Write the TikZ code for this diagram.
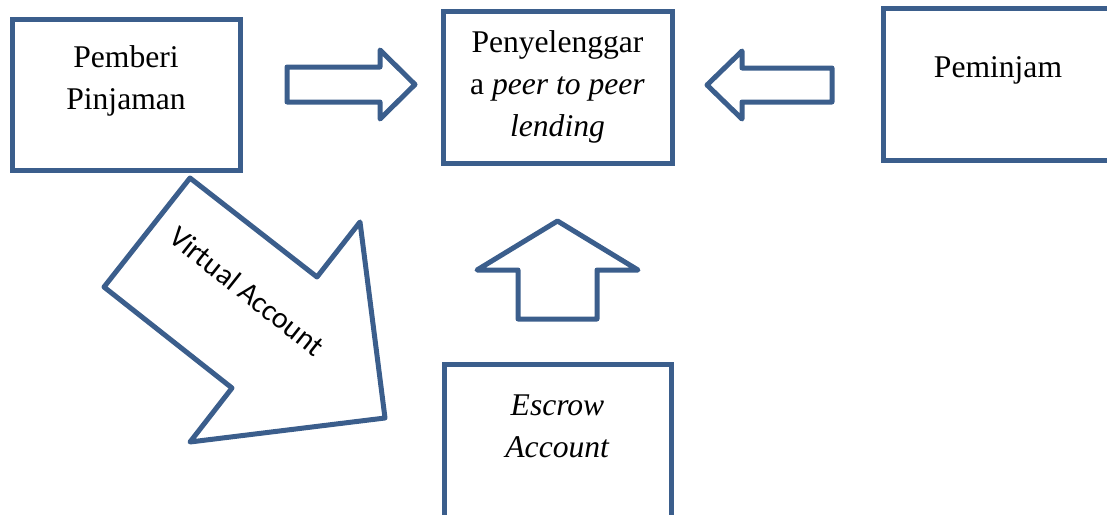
\documentclass[tikz,border=0pt]{standalone}
\usepackage{fontspec}
\setmainfont{Liberation Serif}
\newfontfamily\calibri{Carlito}
\definecolor{boxblue}{HTML}{3B5E8C}
\begin{document}
\begin{tikzpicture}[x=0.5pt,y=-0.5pt,
  box/.style={draw=boxblue,line width=2.5pt},
  blockarrow/.style={draw=boxblue,line width=2.5pt,line join=round},
  lbl/.style={align=center,font=\fontsize{15.8}{21}\selectfont,inner sep=0pt}]
\useasboundingbox (0,0) rectangle (1107,514);
\clip (0,0) rectangle (1107,514);
% boxes
\draw[box] (12,19) rectangle (240,170);
\draw[box] (443,11) rectangle (672,163);
\draw[box] (883,8) rectangle (1120,160);
\draw[box] (444,364) rectangle (671,530);
\node[lbl] (lender) at (126,81) {Pemberi\\Pinjaman};
\node[lbl] (platform) at (557.5,87) {Penyelenggar\\a \textit{peer to peer}\\\textit{lending}};
\node[lbl] (borrower) at (998,70) {Peminjam};
\node[lbl] (escrow) at (557.5,426.5) {\textit{Escrow}\\\textit{Account}};
% block arrows
\draw[blockarrow] (287,67)--(380,67)--(380,50)--(415,84.5)--(380,119)--(380,102)--(287,102)--cycle;
\draw[blockarrow] (832,68)--(742,68)--(742,51)--(707,85)--(742,119)--(742,102)--(832,102)--cycle;
\draw[blockarrow] (518,319)--(518,270)--(477,270)--(557.5,221)--(638,270)--(597,270)--(597,319)--cycle;
\draw[blockarrow] (190,178)--(317,277)--(360,222)--(385,418)--(190,442)--(232,388)--(104,287)--cycle;
\node[rotate=-38.5,inner sep=0pt,font=\calibri\fontsize{15}{18}\selectfont] (virtual) at (247,291) {Virtual Account};
\end{tikzpicture}
\end{document}
